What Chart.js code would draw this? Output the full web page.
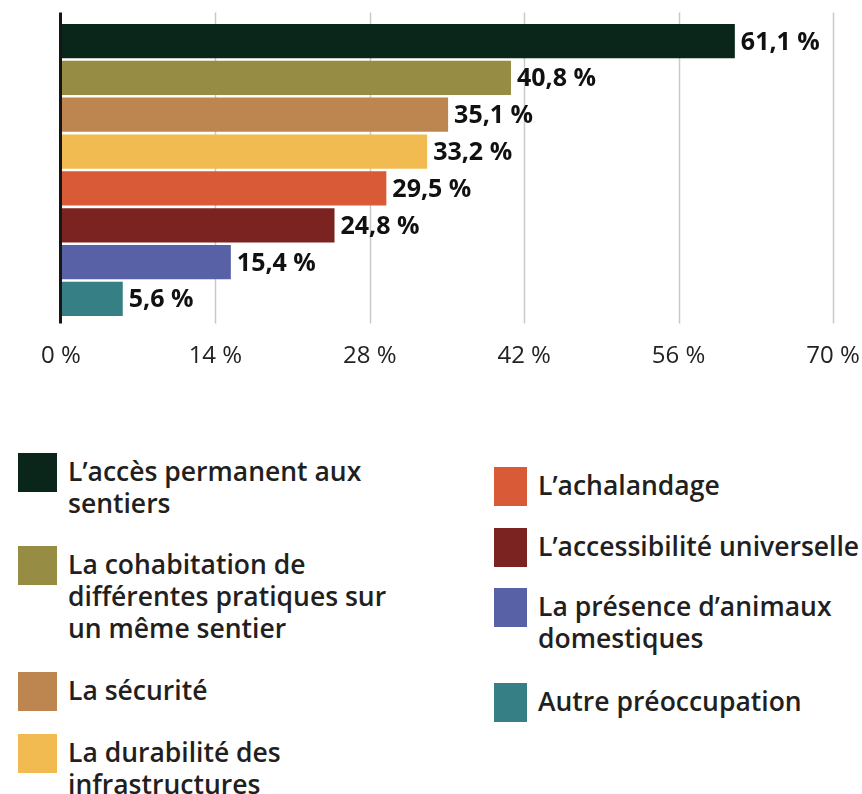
<!DOCTYPE html>
<html>
  <head>
    <title>Préoccupations</title>
    <script src="https://cdn.jsdelivr.net/npm/chart.js"></script>
    <style>
      body { margin: 0; background: #fff; }
      #wrap { position: relative; width: 862px; height: 794px; }
      #chartBox { position: absolute; left: 0; top: 0; width: 862px; height: 420px; }
      .item { position: absolute; font-family: "Open Sans", sans-serif; font-weight: 600;
              font-size: 26.5px; line-height: 32px; color: #231f20; white-space: nowrap; }
      .sw { position: absolute; }
    </style>
  </head>
  <body>
    <div id="wrap">
      <div id="chartBox"><canvas id="myChart"></canvas></div>
      <div id="legend"></div>
    </div>
    <script>
      const categories = [
        "L’accès permanent aux sentiers",
        "La cohabitation de différentes pratiques sur un même sentier",
        "La sécurité",
        "La durabilité des infrastructures",
        "L’achalandage",
        "L’accessibilité universelle",
        "La présence d’animaux domestiques",
        "Autre préoccupation",
      ];
      const values = [61.1, 40.8, 35.1, 33.2, 29.5, 24.8, 15.4, 5.6];
      const colors = ["#0a261b", "#978c43", "#bd8651", "#f2bb52", "#d95a36", "#7a2320", "#5860a6", "#367f84"];
      const xTicks = [0, 14, 28, 42, 56, 70];

      // legend lines (line breaks as in the original)
      const legendLines = [
        ["L’accès permanent aux", "sentiers"],
        ["La cohabitation de", "différentes pratiques sur", "un même sentier"],
        ["La sécurité"],
        ["La durabilité des", "infrastructures"],
        ["L’achalandage"],
        ["L’accessibilité universelle"],
        ["La présence d’animaux", "domestiques"],
        ["Autre préoccupation"],
      ];
      // legend placement: [swatch x, swatch y, swatch w, text x]
      const legendPos = [
        [18, 453, 39, 68], [18, 546, 39, 68], [18, 672, 39, 68], [18, 734, 39, 68],
        [494, 467, 33, 538], [494, 528, 33, 538], [494, 588, 33, 538], [494, 683, 33, 538],
      ];

      const legend = document.getElementById("legend");
      legendLines.forEach((lines, i) => {
        const p = legendPos[i];
        const sw = document.createElement("div");
        sw.className = "sw";
        sw.style.cssText = `left:${p[0]}px;top:${p[1]}px;width:${p[2]}px;height:39px;background:${colors[i]}`;
        legend.appendChild(sw);
        const t = document.createElement("div");
        t.className = "item";
        t.style.left = p[3] + "px";
        t.style.top = p[1] + 2 + "px";
        t.innerHTML = lines.join("<br>");
        legend.appendChild(t);
      });

      const gridPlugin = {
        id: "grid",
        beforeDatasetsDraw(chart) {
          const { ctx, chartArea, scales } = chart;
          const top = chartArea.top - 10;
          const bottom = chartArea.bottom + 6;
          ctx.save();
          ctx.strokeStyle = "#c9c9c9";
          ctx.lineWidth = 1.5;
          xTicks.slice(1).forEach((v) => {
            const x = Math.round(scales.x.getPixelForValue(v)) + 0.5;
            ctx.beginPath();
            ctx.moveTo(x, top);
            ctx.lineTo(x, bottom);
            ctx.stroke();
          });
          ctx.restore();
        },
        afterDatasetsDraw(chart) {
          const { ctx, chartArea, scales } = chart;
          ctx.save();
          const x0 = scales.x.getPixelForValue(0) - 0.5;
          ctx.strokeStyle = "#161616";
          ctx.lineWidth = 3;
          ctx.beginPath();
          ctx.moveTo(x0, chartArea.top - 10);
          ctx.lineTo(x0, chartArea.bottom + 6);
          ctx.stroke();

          ctx.fillStyle = "#111";
          ctx.font = "bold 25px 'Open Sans'";
          ctx.textBaseline = "alphabetic";
          chart.getDatasetMeta(0).data.forEach((bar, i) => {
            const label = values[i].toFixed(1).replace(".", ",") + " %";
            ctx.fillText(label, bar.x + 6, bar.y + 8.5);
          });
          ctx.restore();
        },
      };

      const config = {
        type: "bar",
        data: {
          labels: categories,
          datasets: [
            {
              data: values,
              backgroundColor: colors,
              borderWidth: 0,
              barPercentage: 0.93,
              categoryPercentage: 1,
            },
          ],
        },
        options: {
          indexAxis: "y",
          responsive: true,
          maintainAspectRatio: false,
          animation: false,
          layout: { padding: { left: 61, right: 29, top: 22.6, bottom: 25.8 } },
          plugins: {
            legend: { display: false },
            tooltip: { enabled: false },
          },
          scales: {
            x: {
              min: 0,
              max: 70,
              border: { display: false },
              grid: { display: false, drawTicks: false },
              afterFit: (scale) => {
                scale.paddingLeft = 0;
                scale.paddingRight = 0;
              },
              ticks: {
                stepSize: 14,
                padding: 24,
                color: "#222",
                font: { family: "'Open Sans'", size: 24 },
                callback: (v) => v + " %",
              },
            },
            y: { display: false },
          },
        },
        plugins: [gridPlugin],
      };

      var myChart = new Chart(document.getElementById("myChart"), config);
    </script>
  </body>
</html>
